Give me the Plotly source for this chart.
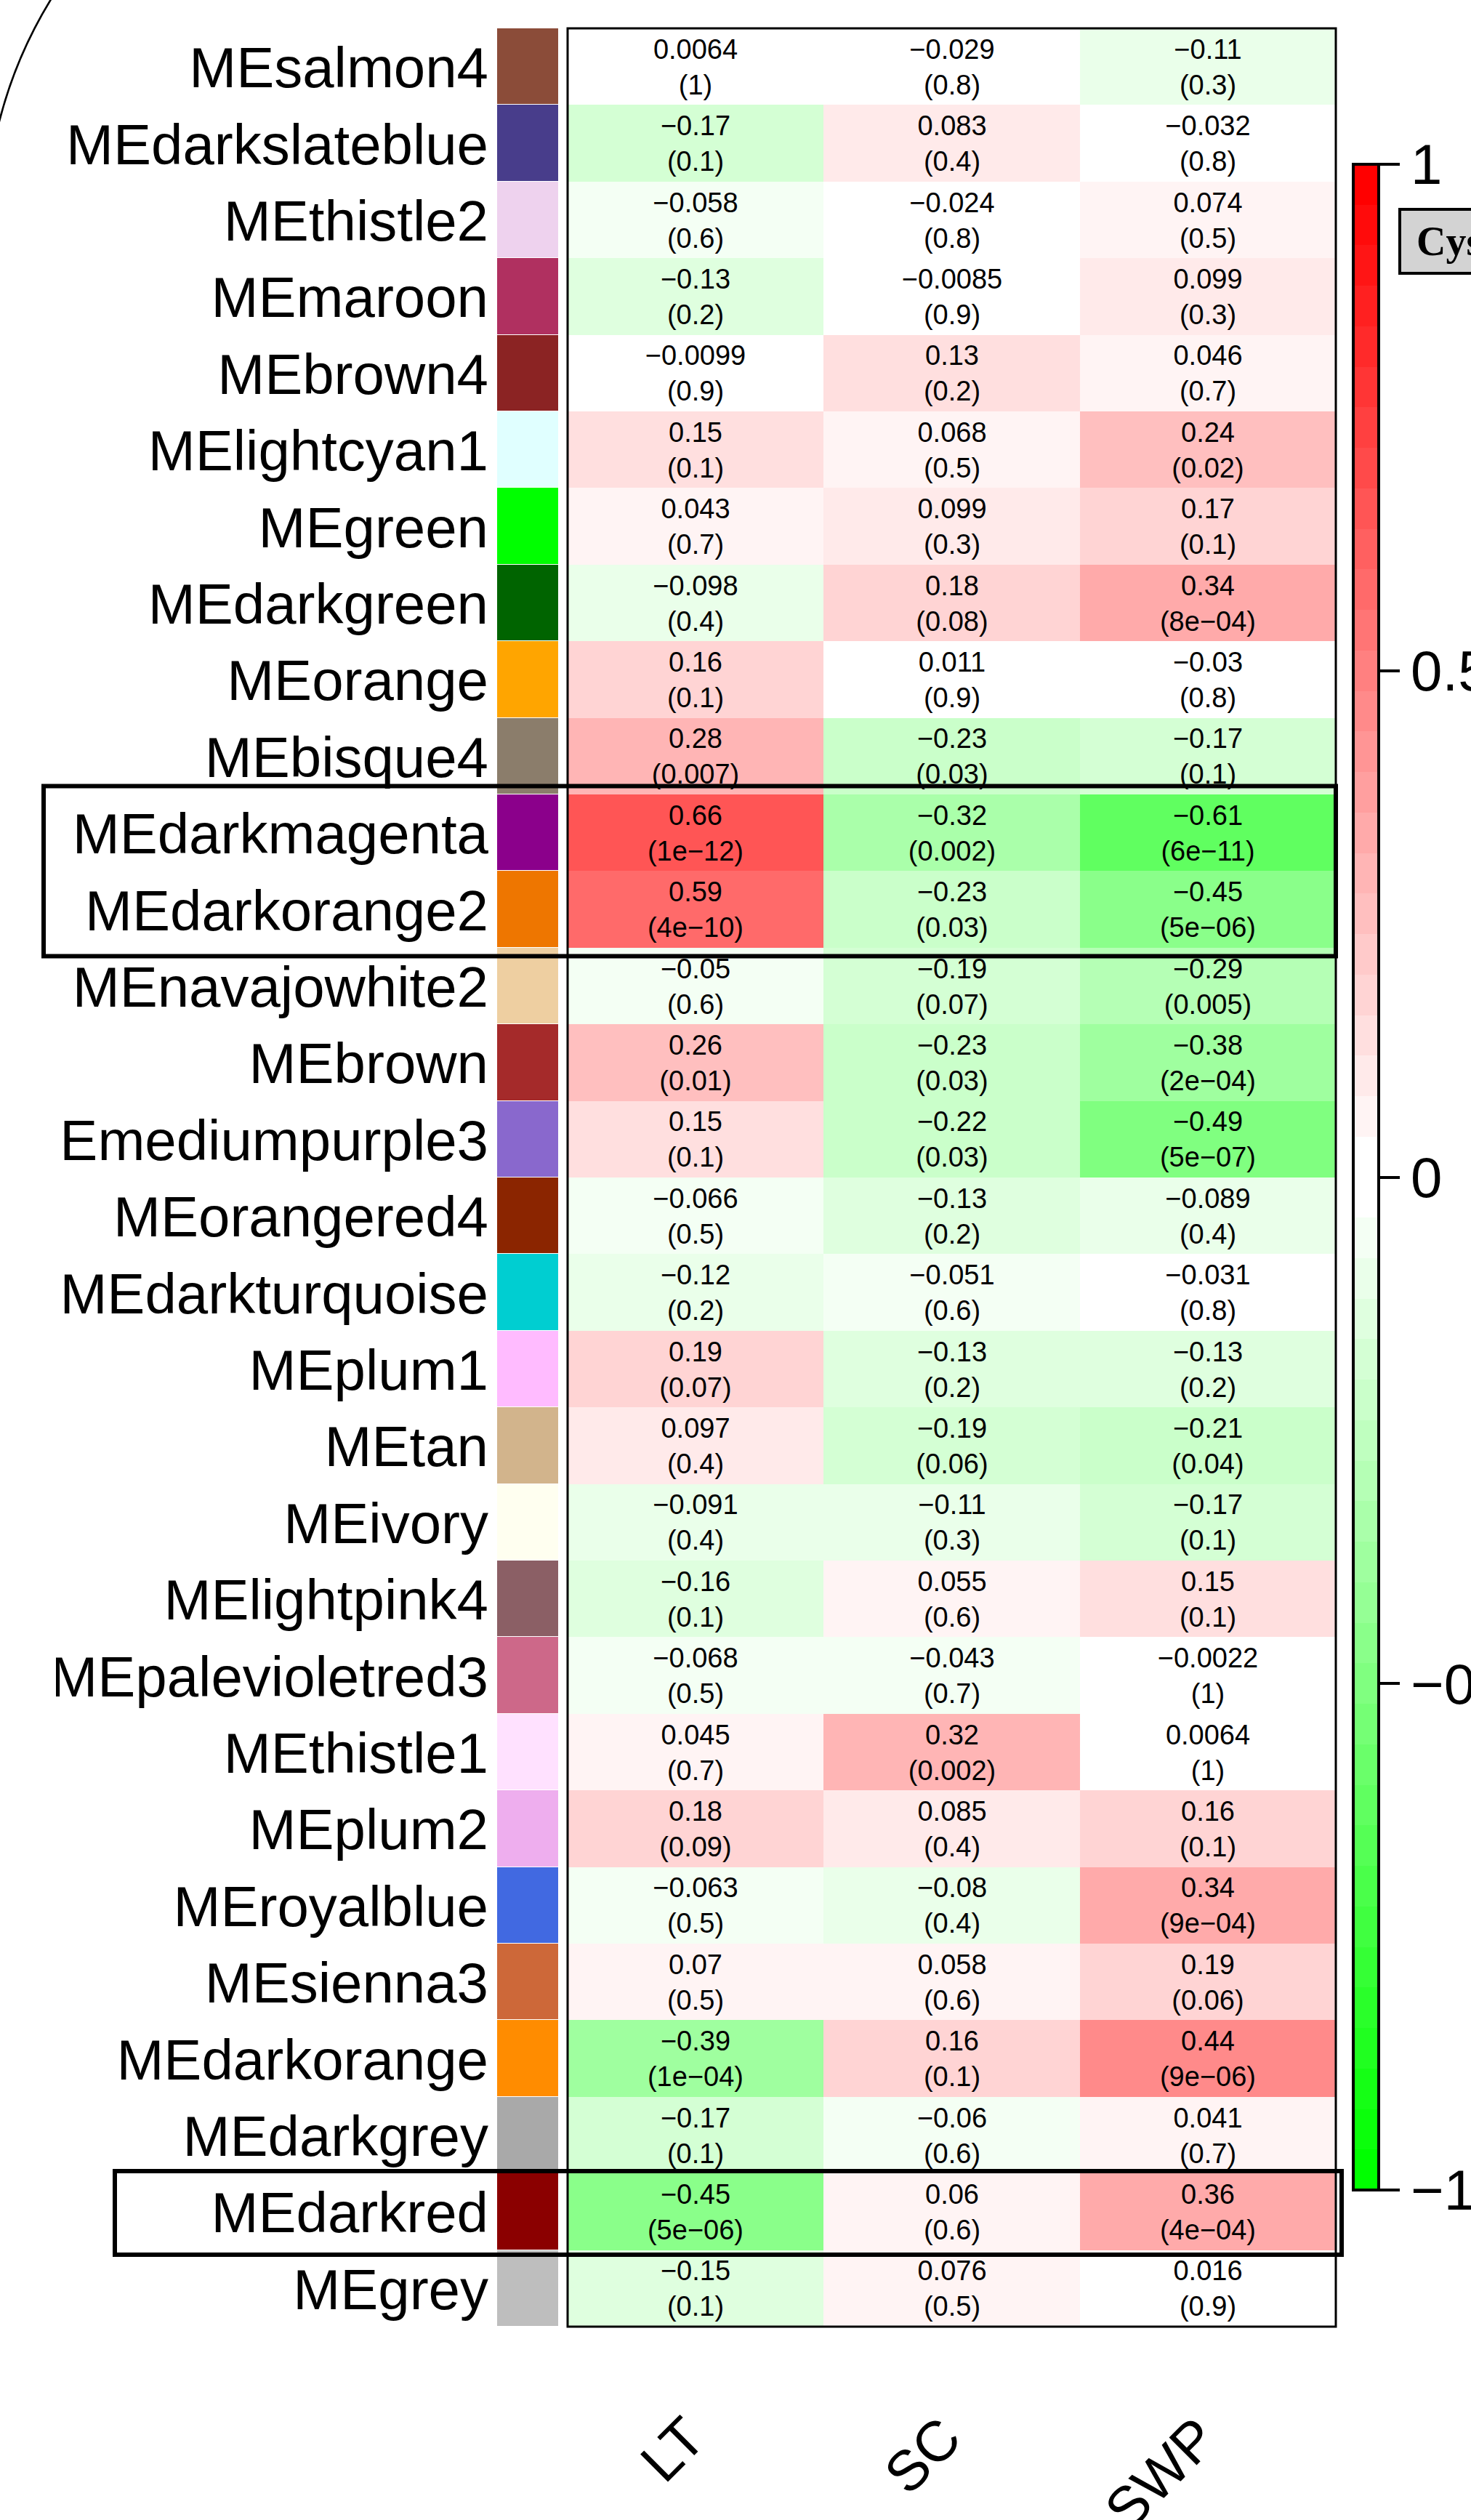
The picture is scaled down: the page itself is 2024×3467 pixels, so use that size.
import plotly.graph_objects as go

# Module eigengenes (rows, top to bottom) and their module colours
modules = [
    "MEsalmon4", "MEdarkslateblue", "MEthistle2", "MEmaroon", "MEbrown4",
    "MElightcyan1", "MEgreen", "MEdarkgreen", "MEorange", "MEbisque4",
    "MEdarkmagenta", "MEdarkorange2", "MEnavajowhite2", "MEbrown", "MEmediumpurple3",
    "MEorangered4", "MEdarkturquoise", "MEplum1", "MEtan", "MEivory",
    "MElightpink4", "MEpalevioletred3", "MEthistle1", "MEplum2", "MEroyalblue",
    "MEsienna3", "MEdarkorange", "MEdarkgrey", "MEdarkred", "MEgrey",
]
module_colors = [
    "#8B4C39", "#483D8B", "#EED2EE", "#B03060", "#8B2323",
    "#E0FFFF", "#00FF00", "#006400", "#FFA500", "#8B7D6B",
    "#8B008B", "#EE7600", "#EECFA1", "#A52A2A", "#8968CD",
    "#8B2500", "#00CED1", "#FFBBFF", "#D2B48C", "#FFFFF0",
    "#8B5F65", "#CD6889", "#FFE1FF", "#EEAEEE", "#4169E1",
    "#CD6839", "#FF8C00", "#A9A9A9", "#8B0000", "#BEBEBE",
]

traits = ["LT", "SC", "SWP"]

# Module-trait correlations
cor_LT = [0.0064, -0.17, -0.058, -0.13, -0.0099, 0.15, 0.043, -0.098, 0.16, 0.28,
          0.66, 0.59, -0.05, 0.26, 0.15, -0.066, -0.12, 0.19, 0.097, -0.091,
          -0.16, -0.068, 0.045, 0.18, -0.063, 0.07, -0.39, -0.17, -0.45, -0.15]
cor_SC = [-0.029, 0.083, -0.024, -0.0085, 0.13, 0.068, 0.099, 0.18, 0.011, -0.23,
          -0.32, -0.23, -0.19, -0.23, -0.22, -0.13, -0.051, -0.13, -0.19, -0.11,
          0.055, -0.043, 0.32, 0.085, -0.08, 0.058, 0.16, -0.06, 0.06, 0.076]
cor_SWP = [-0.11, -0.032, 0.074, 0.099, 0.046, 0.24, 0.17, 0.34, -0.03, -0.17,
           -0.61, -0.45, -0.29, -0.38, -0.49, -0.089, -0.031, -0.13, -0.21, -0.17,
           0.15, -0.0022, 0.0064, 0.16, 0.34, 0.19, 0.44, 0.041, 0.36, 0.016]

# Corresponding p-values, as printed
p_LT = ["1", "0.1", "0.6", "0.2", "0.9", "0.1", "0.7", "0.4", "0.1", "0.007",
        "1e-12", "4e-10", "0.6", "0.01", "0.1", "0.5", "0.2", "0.07", "0.4", "0.4",
        "0.1", "0.5", "0.7", "0.09", "0.5", "0.5", "1e-04", "0.1", "5e-06", "0.1"]
p_SC = ["0.8", "0.4", "0.8", "0.9", "0.2", "0.5", "0.3", "0.08", "0.9", "0.03",
        "0.002", "0.03", "0.07", "0.03", "0.03", "0.2", "0.6", "0.2", "0.06", "0.3",
        "0.6", "0.7", "0.002", "0.4", "0.4", "0.6", "0.1", "0.6", "0.6", "0.5"]
p_SWP = ["0.3", "0.8", "0.5", "0.3", "0.7", "0.02", "0.1", "8e-04", "0.8", "0.1",
         "6e-11", "5e-06", "0.005", "2e-04", "5e-07", "0.4", "0.8", "0.2", "0.04", "0.1",
         "0.1", "1", "1", "0.1", "9e-04", "0.06", "9e-06", "0.7", "4e-04", "0.9"]

# Highlighted groups of modules
highlight_groups = [["MEdarkmagenta", "MEdarkorange2"], ["MEdarkred"]]

W, H = 2024, 3467
FONT = "Liberation Sans"


def px_x(v):
    return v / W


def px_y(v):
    return 1 - v / H


def fmt_r(v):
    return format(v, ".2g").replace("-", "\u2212")


cors = [cor_LT, cor_SC, cor_SWP]
pvals = [p_LT, p_SC, p_SWP]
z = [[cors[j][i] for j in range(3)] for i in range(len(modules))]
cell_text = [[f"{fmt_r(cors[j][i])}<br>({pvals[j][i].replace('-', chr(0x2212))})"
              for j in range(3)] for i in range(len(modules))]

# green - white - red palette with 50 steps
n_col, half = 50, 25
pal = []
for i in range(half):
    t = i / (half - 1)
    pal.append((t, 1.0, t))
for i in range(half):
    t = i / (half - 1)
    pal.append((1.0, 1 - t, 1 - t))
cor_scale = []
for k, (r, g, b) in enumerate(pal):
    c = f"rgb({round(r*255)},{round(g*255)},{round(b*255)})"
    cor_scale.append([k / n_col, c])
    cor_scale.append([(k + 1) / n_col, c])

# stepped scale for the module colour strip
nm = len(module_colors)
strip_scale = []
for k, c in enumerate(module_colors):
    strip_scale.append([k / nm, c])
    strip_scale.append([(k + 1) / nm, c])

y_dom = [px_y(3201), px_y(39)]
# row-label axis sits a few pixels lower so the caps centre on each row
label_dom = [px_y(3210), px_y(48)]

fig = go.Figure()

fig.add_trace(go.Heatmap(
    z=z, x=traits, y=modules, xaxis="x", yaxis="y",
    zmin=-1, zmax=1, colorscale=cor_scale,
    text=cell_text, texttemplate="%{text}",
    textfont=dict(family=FONT, size=38, color="black"),
    hoverinfo="skip",
    colorbar=dict(
        thickness=35, thicknessmode="pixels",
        len=(3013 - 226) / H, lenmode="fraction",
        x=px_x(1862), xanchor="left", xpad=0,
        y=px_y(226), yanchor="top", ypad=0,
        outlinewidth=4, outlinecolor="black", borderwidth=0,
        tickmode="array", tickvals=[-1, -0.5, 0, 0.5, 1],
        ticks="outside", ticklen=27, tickwidth=4, tickcolor="black",
        tickfont=dict(family=FONT, size=78, color="black"),
    ),
))

fig.add_trace(go.Heatmap(
    z=[[i] for i in range(nm)], x=[0], y=modules, xaxis="x2", yaxis="y",
    zmin=-0.5, zmax=nm - 0.5, colorscale=strip_scale, showscale=False,
    ygap=1, hoverinfo="skip",
))

fig.add_trace(go.Scatter(
    x=[595] * nm, y=modules, xaxis="x3", yaxis="y2",
    mode="text", text=modules, textposition="middle left",
    textfont=dict(family=FONT, size=78, color="black"),
    cliponaxis=True, hoverinfo="skip", showlegend=False,
))

hidden = dict(showticklabels=False, showgrid=False, zeroline=False, showline=False, ticks="")

shapes = [
    dict(type="rect", xref="x domain", yref="y domain", x0=0, x1=1, y0=0, y1=1,
         line=dict(color="black", width=3)),
    dict(type="path", xref="paper", yref="paper",
         path=f"M {px_x(-2)},{px_y(171)} Q {px_x(21)},{px_y(78)} {px_x(72)},{px_y(-4)}",
         line=dict(color="black", width=2.6)),
    dict(type="rect", xref="paper", yref="paper",
         x0=px_x(1926), x1=px_x(2200), y0=px_y(376), y1=px_y(288),
         fillcolor="#d3d3d3", line=dict(color="black", width=4)),
]
box_geom = [(60, 1838, 0.11, 0.11), (158, 1846, 0.03, 0.06)]
for grp, (xl, xr, pt, pb) in zip(highlight_groups, box_geom):
    i0 = modules.index(grp[0])
    i1 = modules.index(grp[-1])
    shapes.append(dict(type="rect", xref="paper", yref="y",
                       x0=px_x(xl), x1=px_x(xr), y0=i0 - 0.5 - pt, y1=i1 + 0.5 + pb,
                       line=dict(color="black", width=6)))

annotations = [
    dict(x=t, xref="x", y=px_y(3306), yref="paper", text=t, textangle=-45,
         xanchor="right", yanchor="top", xshift=32, showarrow=False,
         font=dict(family=FONT, size=78, color="black"))
    for t in traits
]
annotations.append(dict(
    x=px_x(1947), xref="paper", y=px_y(332), yref="paper", text="<b>Cys</b>",
    xanchor="left", yanchor="middle", showarrow=False,
    font=dict(family="Liberation Serif", size=56, color="black")))

fig.update_layout(
    width=W, height=H, autosize=False,
    margin=dict(l=0, r=0, t=0, b=0, pad=0, autoexpand=False),
    paper_bgcolor="white", plot_bgcolor="white",
    xaxis=dict(domain=[px_x(781), px_x(1838)], anchor="y", **hidden),
    xaxis2=dict(domain=[px_x(684), px_x(768)], anchor="y", **hidden),
    xaxis3=dict(domain=[px_x(77), px_x(684)], anchor="y2", range=[0, 607], **hidden),
    yaxis=dict(domain=y_dom, anchor="x", range=[nm - 0.5, -0.5], autorange=False,
               type="category", **hidden),
    yaxis2=dict(domain=label_dom, anchor="x3", range=[nm - 0.5, -0.5], autorange=False,
                type="category", categoryorder="array", categoryarray=modules, **hidden),
    shapes=shapes,
    annotations=annotations,
    showlegend=False,
)

fig.write_html("out.html", config={"displayModeBar": False, "responsive": False})
